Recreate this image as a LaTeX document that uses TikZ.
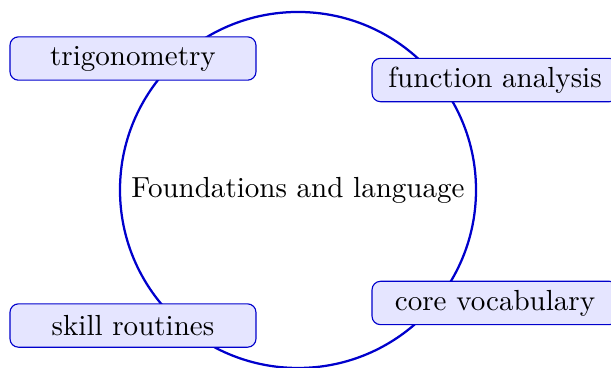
\documentclass[tikz,border=0pt]{standalone}
\usetikzlibrary{positioning}

\begin{document}
\begin{tikzpicture}[
  font=\fontsize{10.3}{12.4}\selectfont,
  hub/.style={draw=blue!80!black, line width=0.8pt, circle, minimum size=4.436cm, inner sep=0pt, align=center},
  topic/.style={draw=blue!80!black, fill=blue!10, rounded corners=3pt, minimum width=3.065cm, minimum height=0.54cm, inner sep=2pt, align=center},
]
\useasboundingbox (0,0) rectangle (7.613,-4.585);

% central circle
\node[hub] (found) at (3.713,-2.367) {Foundations and language};

% topics on the rim
\node[topic] (trig) at (1.657,-0.729) {trigonometry};
\node[topic] (func) at (6.168,-0.997) {function analysis};
\node[topic] (skill) at (1.657,-4.056) {skill routines};
\node[topic] (vocab) at (6.168,-3.775) {core vocabulary};
\end{tikzpicture}
\end{document}
